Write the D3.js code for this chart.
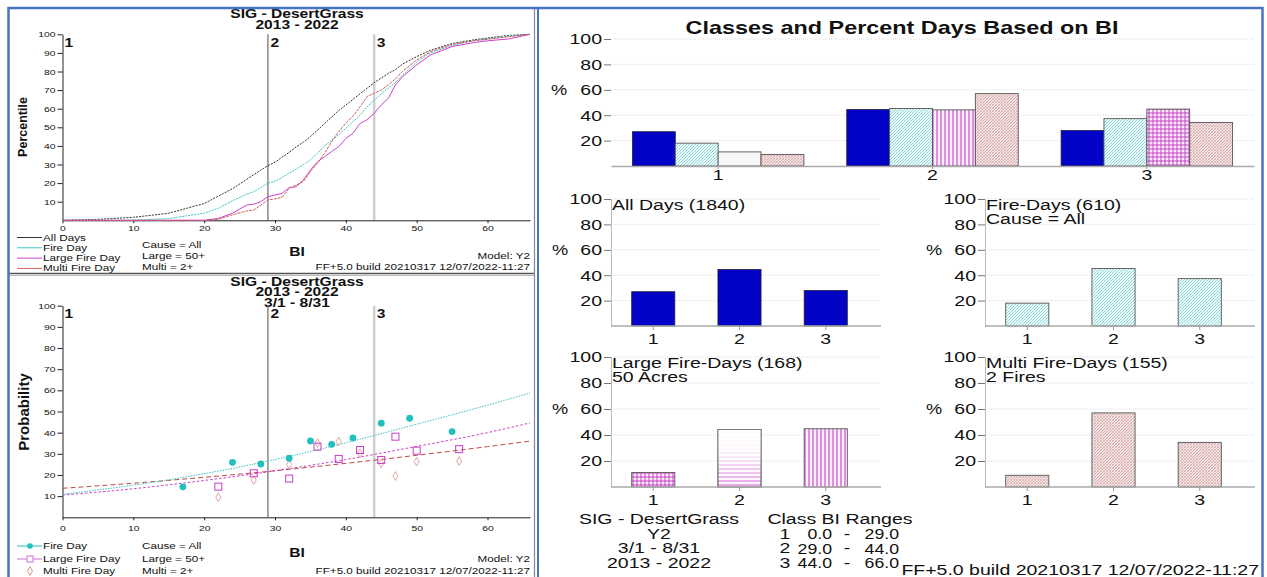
<!DOCTYPE html>
<html>
<head>
<meta charset="utf-8">
<script src="https://cdn.jsdelivr.net/npm/d3@7"></script>
<style>
  body { margin: 0; background: #fff; }
  svg { display: block; font-family: "Liberation Sans", Arial, sans-serif; }
</style>
</head>
<body>
<main></main>
<script>
// Fire Family Plus style summary: percentile + probability (left), class bar charts (right)

// ---- data ----
const classes = ["1", "2", "3"];
const classLow = [0, 29, 44];
const classHigh = [29, 44, 66];

// percentile curves (BI vs cumulative %)
const pctBI = [0, 5, 10, 15, 20, 22, 24, 26, 27, 28, 29, 30, 31, 32, 33, 34, 35, 36, 37, 38, 39, 40, 41, 42, 43, 44, 45, 46, 47, 48, 50, 52, 55, 58, 60, 63, 66];
const allDaysCdf = [0, 0.5, 1.6, 3.8, 9, 13, 17, 22, 24.5, 27, 29.4, 31.2, 34, 36.5, 39.5, 42, 45, 48.5, 52, 55.5, 59, 62, 65, 68, 71, 74, 76.5, 79, 81, 84, 88, 91.5, 95, 97, 98, 99.4, 100];
const fireDayCdf = [0, 0, 0, 1, 3.8, 6.5, 10.5, 14, 15.4, 17.5, 20, 21, 23, 25.3, 27.5, 30, 32.5, 36, 40, 43, 46, 49.5, 53, 56.5, 61, 64.5, 68, 71, 74, 78, 85, 90, 94, 96.5, 97.5, 99, 100];
const largeDayCdf = [0, 0, 0, 0, 0, 1, 3.8, 8.2, 8.6, 10, 12.7, 13.6, 14.5, 17.6, 18.1, 21.7, 27, 31.5, 34.2, 37, 39.6, 44, 46.8, 52, 54, 57.5, 62, 65.6, 72.8, 77.2, 83.5, 89, 93.4, 95.5, 96.5, 97.5, 100];
const multiDayCdf = [0, 0, 0, 0, 0, 0.5, 3, 5, 5.5, 8.2, 11, 11.5, 12.4, 17.2, 19, 20.8, 26.2, 30.6, 36, 42.3, 47.7, 52.2, 56, 61, 66.5, 68.3, 70, 72.8, 76, 80, 86.2, 90.7, 94.6, 96.5, 97.3, 98.7, 100];

// probability points
const fireBI = [17, 24, 28, 32, 35, 38, 41, 45, 49, 55];
const fireProb = [14.4, 26.0, 25.2, 27.9, 36.1, 34.5, 37.5, 44.5, 46.8, 40.5];
const largeBI = [22, 27, 32, 36, 39, 42, 45, 47, 50, 56];
const largeProb = [14.5, 20.8, 18.3, 33.4, 27.6, 31.8, 27.1, 38.1, 31.5, 32.2];
const multiBI = [22, 27, 32, 36, 39, 42, 45, 47, 50, 56];
const multiProb = [9.5, 17.6, 25, 35, 35.8, 30.3, 25.5, 19.5, 26.3, 26.6];

// fitted probability lines
const trendBI = [0, 10, 20, 30, 40, 50, 60, 66];
const fireTrend = [10.9, 15.2, 20.6, 27.3, 35.2, 44, 53, 58.7];
const largeTrend = [10.5, 13.5, 17.4, 22, 27.3, 33.5, 40, 44.6];
const multiTrend = [13.7, 16.1, 18.9, 22, 25.5, 29.3, 33.4, 36];

// percent of days in each class
const allDaysPct = [27, 44.5, 28];
const fireDaysPct = [18, 45.3, 37.3];
const largeDaysPct = [11.1, 44.2, 44.8];
const multiDaysPct = [9, 57, 34.3];
const dayCounts = [1840, 610, 168, 155];

// ---- setup ----
const W = 1267, H = 577;
const SX = 1.3; // text is drawn a bit wide, as in the source image
const FF = "FF+5.0 build 20210317 12/07/2022-11:27";

const svg = d3.select("main").append("svg").attr("width", W).attr("height", H);
svg.append("rect").attr("width", W).attr("height", H).attr("fill", "#fff");

function label(g, x, y, s, o = {}) {
  return g.append("text")
    .attr("transform", `translate(${x},${y}) ` + (o.rotate ? `rotate(${o.rotate})` : `scale(${o.sx || SX},1)`))
    .attr("text-anchor", o.anchor || "start")
    .attr("dominant-baseline", "central")
    .style("font-size", (o.size || 9) + "px")
    .style("font-weight", o.bold ? "bold" : "normal")
    .attr("fill", o.color || "#111")
    .text(s);
}

function stretchTicks(g, size, color) {
  g.selectAll(".tick text").each(function () {
    const t = d3.select(this);
    const x = +t.attr("x") || 0;
    t.attr("x", x / SX).attr("transform", `scale(${SX},1)`)
     .style("font-size", size + "px")
     .style("font-family", "Liberation Sans, Arial, sans-serif")
     .attr("fill", color || "#111");
  });
}

// patterns
const defs = svg.append("defs");
function pat(id, w, h, bg, draw) {
  const p = defs.append("pattern").attr("id", id).attr("patternUnits", "userSpaceOnUse")
    .attr("width", w).attr("height", h);
  p.append("rect").attr("width", w).attr("height", h).attr("fill", bg);
  draw(p);
}
pat("pFire", 3, 3, "#f2fbfb", p => p.append("path").attr("d", "M0,3L3,0M-1,1L1,-1M2,4L4,2").attr("stroke", "#6fcfcf").attr("stroke-width", 0.8));
pat("pMulti", 3, 3, "#f6e8e8", p => {
  p.append("path").attr("d", "M0,3L3,0M-1,1L1,-1M2,4L4,2").attr("stroke", "#c99090").attr("stroke-width", 0.7);
  p.append("path").attr("d", "M0,0L3,3").attr("stroke", "#dcb4b4").attr("stroke-width", 0.5);
});
pat("pVert", 4, 4, "#fbeffb", p => p.append("path").attr("d", "M1,0V4").attr("stroke", "#c030c0").attr("stroke-width", 1));
pat("pGrid", 4, 4, "#fbeffb", p => p.append("path").attr("d", "M1,0V4M0,1H4").attr("stroke", "#c030c0").attr("stroke-width", 0.9));
pat("pHoriz", 4, 4, "#fdf6fd", p => p.append("path").attr("d", "M0,1H4").attr("stroke", "#d050d0").attr("stroke-width", 1));
const fade = defs.append("linearGradient").attr("id", "gFade").attr("x1", 0).attr("x2", 0).attr("y1", 0).attr("y2", 1);
fade.append("stop").attr("offset", "0%").attr("stop-color", "#fff").attr("stop-opacity", 0.97);
fade.append("stop").attr("offset", "35%").attr("stop-color", "#fff").attr("stop-opacity", 0.9);
fade.append("stop").attr("offset", "100%").attr("stop-color", "#fff").attr("stop-opacity", 0);

const C_FIRE = "#22bfbf", C_LARGE = "#c83cc8", C_MULTI = "#c85050", C_BLUE = "#0303c8";

// ---- left panels ----
const xL = d3.scaleLinear().domain([0, 66]).range([62.5, 530]);
const yA = d3.scaleLinear().domain([0, 100]).range([220.3, 34.3]);
const yB = d3.scaleLinear().domain([0, 100]).range([517.3, 305.7]);

function leftFrame(y, yTop, yBot, titles, titleY, classY, yLabel, yLabelSize, yLabelY, xPad) {
  const g = svg.append("g");
  titles.forEach((t, i) => label(g, 297, titleY + i * 10.5, t, { anchor: "middle", size: 12, bold: true }));
  // class boundaries
  g.append("line").attr("x1", xL(classLow[1])).attr("x2", xL(classLow[1]))
    .attr("y1", yTop).attr("y2", yBot).attr("stroke", "#6a6a6a").attr("stroke-width", 1.2);
  g.append("line").attr("x1", xL(classLow[2])).attr("x2", xL(classLow[2]))
    .attr("y1", yTop).attr("y2", yBot).attr("stroke", "#cfcfcf").attr("stroke-width", 2.5);
  classes.forEach((c, i) => label(g, xL(classLow[i]) + (i ? 2.5 : 2), classY, c, { size: 12, bold: true }));
  // axes
  const ay = g.append("g").attr("transform", "translate(62.5,0)")
    .call(d3.axisLeft(y).tickValues(d3.range(10, 101, 10)).tickSize(5).tickPadding(2).tickSizeOuter(0));
  ay.select(".domain").attr("stroke", "#222");
  ay.selectAll(".tick line").attr("stroke", "#222");
  stretchTicks(ay, 8);
  const ax = g.append("g").attr("transform", `translate(0,${yBot})`)
    .call(d3.axisBottom(xL).tickValues(d3.range(0, 61, 10)).tickSize(3).tickPadding(xPad).tickSizeOuter(0));
  ax.select(".domain").attr("stroke", "#222");
  ax.selectAll(".tick line").attr("stroke", "#222");
  stretchTicks(ax, 8);
  label(g, 23, yLabelY, yLabel, { rotate: -90, anchor: "middle", size: yLabelSize, bold: true });
  return g;
}

// chart A: percentiles
const gA = leftFrame(yA, 34.3, 220.3, ["SIG - DesertGrass", "2013 - 2022"], 14, 43, "Percentile", 12.5, 127, 2);
const lineA = vals => d3.line().x((d, i) => xL(pctBI[i])).y(d => yA(d))(vals);
const cdfSeries = [
  { v: allDaysCdf, c: "#333", dash: "2,1.2", name: "All Days" },
  { v: fireDayCdf, c: "#3cc8c8", dash: "2,1", name: "Fire Day" },
  { v: largeDayCdf, c: "#d040d0", dash: null, name: "Large Fire Day" },
  { v: multiDayCdf, c: "#d06060", dash: "3,1", name: "Multi Fire Day" }
];
cdfSeries.forEach(s => {
  gA.append("path").attr("d", lineA(s.v)).attr("fill", "none").attr("stroke", s.c)
    .attr("stroke-width", 1).attr("stroke-dasharray", s.dash);
});
cdfSeries.forEach((s, i) => {
  const yy = 237.5 + i * 10.3;
  gA.append("line").attr("x1", 17).attr("x2", 42).attr("y1", yy).attr("y2", yy).attr("stroke", s.c).attr("stroke-width", 1);
  label(gA, 43, yy, s.name, { size: 9 });
});
function footnotes(g, y0) {
  label(g, 142, y0, "Cause = All", { size: 9 });
  label(g, 142, y0 + 11, "Large = 50+", { size: 9 });
  label(g, 142, y0 + 21.5, "Multi = 2+", { size: 9 });
  label(g, 297, y0 + 7, "BI", { anchor: "middle", size: 12, bold: true });
  label(g, 530, y0 + 11, "Model: Y2", { anchor: "end", size: 9 });
  label(g, 530, y0 + 21.5, FF, { anchor: "end", size: 9 });
}
footnotes(gA, 245);

// chart B: probabilities
const gB = leftFrame(yB, 305.7, 517.3, ["SIG - DesertGrass", "2013 - 2022", "3/1 - 8/31"], 281.5, 313.5, "Probability", 15, 412, 5);
const trendLine = vals => d3.line().curve(d3.curveMonotoneX).x((d, i) => xL(trendBI[i])).y(d => yB(d))(vals);
gB.append("path").attr("d", trendLine(multiTrend)).attr("fill", "none").attr("stroke", "#c04848").attr("stroke-width", 1).attr("stroke-dasharray", "5,3");
gB.append("path").attr("d", trendLine(largeTrend)).attr("fill", "none").attr("stroke", "#c840c8").attr("stroke-width", 1).attr("stroke-dasharray", "2.5,2");
gB.append("path").attr("d", trendLine(fireTrend)).attr("fill", "none").attr("stroke", "#40c4c4").attr("stroke-width", 1).attr("stroke-dasharray", "1.5,1.2");

const diamond = d3.symbol().type(d3.symbolDiamond).size(22);
gB.append("g").selectAll("path").data(multiBI).join("path")
  .attr("d", diamond).attr("transform", (d, i) => `translate(${xL(d)},${yB(multiProb[i])})`)
  .attr("fill", "none").attr("stroke", "#e09a9a").attr("stroke-width", 0.9);
gB.append("g").selectAll("rect").data(largeBI).join("rect")
  .attr("x", d => xL(d) - 3.5).attr("y", (d, i) => yB(largeProb[i]) - 3.5)
  .attr("width", 7).attr("height", 7).attr("fill", "none").attr("stroke", C_LARGE).attr("stroke-width", 1);
gB.append("g").selectAll("circle").data(fireBI).join("circle")
  .attr("cx", d => xL(d)).attr("cy", (d, i) => yB(fireProb[i])).attr("r", 3.4).attr("fill", C_FIRE);

// legend B
const legB = [546, 559, 571];
gB.append("line").attr("x1", 17).attr("x2", 42).attr("y1", legB[0]).attr("y2", legB[0]).attr("stroke", C_FIRE);
gB.append("circle").attr("cx", 30).attr("cy", legB[0]).attr("r", 2.8).attr("fill", C_FIRE);
gB.append("line").attr("x1", 17).attr("x2", 42).attr("y1", legB[1]).attr("y2", legB[1]).attr("stroke", "#d070d0");
gB.append("rect").attr("x", 27).attr("y", legB[1] - 3).attr("width", 6).attr("height", 6).attr("fill", "#fff").attr("stroke", "#d070d0");
gB.append("path").attr("d", diamond).attr("transform", `translate(30,${legB[2]})`).attr("fill", "none").attr("stroke", "#e09a9a");
["Fire Day", "Large Fire Day", "Multi Fire Day"].forEach((t, i) => label(gB, 43, legB[i], t, { size: 9 }));
label(gB, 142, 546, "Cause = All", { size: 9 });
label(gB, 142, 559, "Large = 50+", { size: 9 });
label(gB, 142, 571, "Multi = 2+", { size: 9 });
label(gB, 297, 553, "BI", { anchor: "middle", size: 12, bold: true });
label(gB, 530, 559, "Model: Y2", { anchor: "end", size: 9 });
label(gB, 530, 571, FF, { anchor: "end", size: 9 });

// ---- right panel ----
const gR = svg.append("g");
const series = ["all", "fire", "large", "multi"];
const pctBySeries = { all: allDaysPct, fire: fireDaysPct, large: largeDaysPct, multi: multiDaysPct };

function yFrame(g, y, x0, x1) {
  // grid
  g.append("g").selectAll("line").data(d3.range(20, 101, 20)).join("line")
    .attr("x1", x0).attr("x2", x1).attr("y1", d => y(d)).attr("y2", d => y(d))
    .attr("stroke", "#dedede").attr("stroke-dasharray", "1,1");
  const ay = g.append("g").attr("transform", `translate(${x0},0)`)
    .call(d3.axisLeft(y).tickValues(d3.range(20, 101, 20)).tickSize(7).tickPadding(2).tickSizeOuter(0));
  ay.selectAll(".tick line").attr("stroke", "#777");
  stretchTicks(ay, 15);
  return ay;
}

function barStyle(sel, key, patterns) {
  sel.attr("fill", (d, i) => {
    if (key === "all") return C_BLUE;
    if (key === "fire") return "url(#pFire)";
    if (key === "multi") return "url(#pMulti)";
    return patterns[i] ? `url(#${patterns[i]})` : "#f7f7f7";
  })
  .attr("stroke", key === "all" ? "#223" : "#555")
  .attr("stroke-width", key === "all" ? 0.8 : 0.9);
}

// top grouped chart
{
  const y = d3.scaleLinear().domain([0, 100]).range([166, 39]);
  const x = d3.scaleBand().domain(classes).range([611, 1254]).paddingInner(0.2).paddingOuter(0.1);
  const xs = d3.scaleBand().domain(series).range([0, x.bandwidth()]);
  const g = gR.append("g");
  label(g, 902, 28, "Classes and Percent Days Based on BI", { anchor: "middle", size: 18, bold: true });
  const ay = yFrame(g, y, 611, 1254);
  ay.select(".domain").remove();
  label(g, 559, y(60), "%", { anchor: "middle", size: 14 });
  series.forEach(k => {
    g.append("g").selectAll("rect").data(pctBySeries[k]).join("rect")
      .attr("x", (d, i) => x(classes[i]) + xs(k)).attr("width", xs.bandwidth())
      .attr("y", d => y(d)).attr("height", d => y(0) - y(d))
      .call(barStyle, k, [null, "pVert", "pGrid"]);
  });
  const ax = g.append("g").attr("transform", `translate(0,${y(0)})`)
    .call(d3.axisBottom(x).tickSize(3).tickPadding(0).tickSizeOuter(0));
  ax.select(".domain").attr("stroke", "#aaa").attr("stroke-width", 1.5);
  ax.selectAll(".tick line").attr("stroke", "#999");
  stretchTicks(ax, 15);
}

// small charts
function smallChart(x0, yTop, yBase, key, vals, patterns, t1, t2) {
  const y = d3.scaleLinear().domain([0, 100]).range([yBase, yTop]);
  const x = d3.scaleBand().domain(classes).range([x0, x0 + 257]).paddingInner(0.5).paddingOuter(0.24);
  const g = gR.append("g");
  const ay = yFrame(g, y, x0, x0 + 270);
  ay.select(".domain").attr("stroke", "#bbb");
  label(g, x0 - 51, y(60), "%", { anchor: "middle", size: 14 });
  g.append("g").selectAll("rect").data(vals).join("rect")
    .attr("x", (d, i) => x(classes[i])).attr("width", x.bandwidth())
    .attr("y", d => y(d)).attr("height", d => y(0) - y(d))
    .call(barStyle, key, patterns);
  if (patterns && patterns.includes("pHoriz")) {
    const i = patterns.indexOf("pHoriz");
    g.append("rect").attr("x", x(classes[i])).attr("width", x.bandwidth())
      .attr("y", y(vals[i])).attr("height", y(0) - y(vals[i])).attr("fill", "url(#gFade)")
      .attr("stroke", "#777").attr("stroke-width", 0.9);
  }
  const ax = g.append("g").attr("transform", `translate(0,${y(0)})`)
    .call(d3.axisBottom(x).tickSize(4).tickPadding(3).tickSizeOuter(0));
  ax.select(".domain").attr("d", `M${x0},0H${x0 + 270}`).attr("stroke", "#aaa").attr("stroke-width", 1.5);
  ax.selectAll(".tick line").attr("stroke", "#999");
  stretchTicks(ax, 15);
  label(g, x0 + 1, yTop + 6, t1, { size: 15 });
  if (t2) label(g, x0 + 1, yTop + 20, t2, { size: 15 });
}
smallChart(611, 199, 326, "all", allDaysPct, null, `All Days (${dayCounts[0]})`);
smallChart(985, 199, 326, "fire", fireDaysPct, null, `Fire-Days (${dayCounts[1]})`, "Cause = All");
smallChart(611, 357, 487, "large", largeDaysPct, ["pGrid", "pHoriz", "pVert"], `Large Fire-Days (${dayCounts[2]})`, "50 Acres");
smallChart(985, 357, 487, "multi", multiDaysPct, null, `Multi Fire-Days (${dayCounts[3]})`, "2 Fires");

// info block
["SIG - DesertGrass", "Y2", "3/1 - 8/31", "2013 - 2022"].forEach((t, i) =>
  label(gR, 659, 519 + i * 14.6, t, { anchor: "middle", size: 15 }));
label(gR, 840, 519, "Class BI Ranges", { anchor: "middle", size: 15 });
const f1 = d3.format(".1f");
classes.forEach((c, i) => {
  const yy = 519 + (i + 1) * 14.6;
  label(gR, 785, yy, c, { anchor: "middle", size: 15 });
  label(gR, 832, yy, f1(classLow[i]), { anchor: "end", size: 15, sx: 1.18 });
  label(gR, 847, yy, "-", { anchor: "middle", size: 15 });
  label(gR, 899, yy, f1(classHigh[i]), { anchor: "end", size: 15, sx: 1.18 });
});
label(gR, 1259, 569.5, FF, { anchor: "end", size: 15 });

// ---- frames ----
svg.append("line").attr("x1", 8).attr("x2", 535).attr("y1", 273.5).attr("y2", 273.5).attr("stroke", "#555").attr("stroke-width", 1.5);
svg.append("line").attr("x1", 8).attr("x2", 535).attr("y1", 275.5).attr("y2", 275.5).attr("stroke", "#bbb").attr("stroke-width", 1);
svg.append("line").attr("x1", 534.5).attr("x2", 534.5).attr("y1", 8).attr("y2", 577).attr("stroke", "#888").attr("stroke-width", 1.2);
svg.append("line").attr("x1", 538).attr("x2", 538).attr("y1", 8).attr("y2", 577).attr("stroke", "#4a72c4").attr("stroke-width", 2);
svg.append("rect").attr("x", 8.5).attr("y", 8).attr("width", 1254).attr("height", 575)
  .attr("fill", "none").attr("stroke", "#4a72c4").attr("stroke-width", 2.5);
</script>
</body>
</html>
